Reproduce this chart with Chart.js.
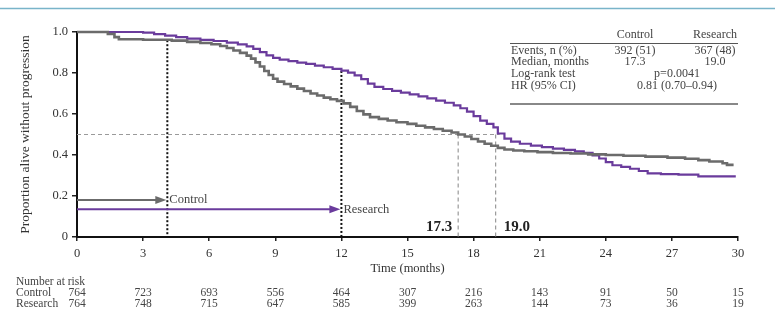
<!DOCTYPE html>
<html>
<head>
<meta charset="utf-8">
<script src="https://cdn.jsdelivr.net/npm/chart.js@4.4.1/dist/chart.umd.min.js"></script>
<style>
  html, body { margin: 0; padding: 0; background: #fff; }
  #wrap { width: 775px; height: 322px; }
</style>
</head>
<body>
<div id="wrap"><canvas id="km" width="775" height="322"></canvas></div>
<script>
// Kaplan-Meier curves
var controlTimes = [0, 1.4, 1.7, 1.9, 3.0, 4.3, 5.0, 5.6, 6.1, 6.5, 6.8, 7.1, 7.4, 7.7, 7.9, 8.1, 8.3, 8.5, 8.7, 8.9, 9.1, 9.4, 9.7, 10.0, 10.3, 10.6, 10.9, 11.2, 11.5, 11.8, 12.1, 12.4, 12.7, 13.0, 13.3, 13.7, 14.1, 14.5, 15.0, 15.4, 15.8, 16.2, 16.6, 17.0, 17.3, 17.6, 17.9, 18.2, 18.5, 18.8, 19.1, 19.4, 19.8, 20.3, 20.9, 21.6, 22.4, 23.2, 24.0, 24.8, 25.8, 26.8, 27.6, 28.2, 28.7, 29.3, 29.5, 29.8];
var controlSurv = [1.0, 0.99, 0.975, 0.965, 0.962, 0.958, 0.952, 0.946, 0.94, 0.932, 0.922, 0.91, 0.898, 0.885, 0.87, 0.852, 0.832, 0.81, 0.79, 0.772, 0.758, 0.746, 0.735, 0.724, 0.712, 0.70, 0.69, 0.68, 0.672, 0.664, 0.652, 0.635, 0.615, 0.598, 0.585, 0.576, 0.568, 0.56, 0.552, 0.543, 0.535, 0.527, 0.518, 0.51, 0.50, 0.49, 0.478, 0.466, 0.455, 0.445, 0.435, 0.427, 0.422, 0.418, 0.414, 0.41, 0.407, 0.403, 0.40, 0.396, 0.392, 0.387, 0.382, 0.375, 0.368, 0.36, 0.352, 0.352];
var researchTimes = [0, 3.0, 3.5, 4.0, 4.5, 5.0, 5.6, 6.2, 6.8, 7.3, 7.7, 8.0, 8.3, 8.6, 8.9, 9.2, 9.6, 10.0, 10.4, 10.8, 11.2, 11.6, 12.0, 12.3, 12.6, 12.9, 13.2, 13.5, 13.9, 14.3, 14.7, 15.1, 15.5, 15.9, 16.3, 16.7, 17.1, 17.4, 17.7, 18.0, 18.3, 18.6, 18.9, 19.1, 19.4, 19.7, 20.1, 20.6, 21.1, 21.6, 22.1, 22.6, 23.0, 23.4, 23.7, 24.0, 24.3, 24.7, 25.1, 25.5, 25.9, 26.5, 27.3, 28.2, 29.9];
var researchSurv = [1.0, 0.997, 0.99, 0.982, 0.975, 0.968, 0.962, 0.956, 0.948, 0.94, 0.93, 0.918, 0.902, 0.886, 0.874, 0.865, 0.858, 0.851, 0.845, 0.836, 0.828, 0.82, 0.812, 0.802, 0.788, 0.77, 0.748, 0.732, 0.722, 0.713, 0.704, 0.696, 0.686, 0.676, 0.665, 0.655, 0.642, 0.628, 0.612, 0.59, 0.568, 0.552, 0.535, 0.505, 0.48, 0.465, 0.455, 0.446, 0.438, 0.431, 0.425, 0.418, 0.41, 0.398, 0.383, 0.365, 0.35, 0.342, 0.333, 0.322, 0.31, 0.307, 0.304, 0.296, 0.296];

var xTicks = [0, 3, 6, 9, 12, 15, 18, 21, 24, 27, 30];
var riskControl = [764, 723, 693, 556, 464, 307, 216, 143, 91, 50, 15];
var riskResearch = [764, 748, 715, 647, 585, 399, 263, 144, 73, 36, 19];

var medians = [17.3, 19.0];
var markerTimes = [4.1, 12];
var markerTops = [0.96, 0.81];
var arrowLevels = [0.18, 0.135];
var arrowLabels = ['Control', 'Research'];

var statHeader = ['Control', 'Research'];
var statLabels = ['Events, n (%)', 'Median, months', 'Log-rank test', 'HR (95% CI)'];
var statControl = ['392 (51)', '17.3'];
var statResearch = ['367 (48)', '19.0'];
var statShared = ['p=0.0041', '0.81 (0.70\u20130.94)'];

var grayCol = '#6b6b6b';
var purpleCol = '#6a3b9c';
var serif = "'Liberation Serif', 'DejaVu Serif', serif";

Chart.defaults.font.family = serif;
Chart.defaults.color = '#333';

function toPoints(ts, ss) {
    return ts.map(function(t, i) { return { x: t, y: ss[i] }; });
}

function line(ctx, x1, y1, x2, y2) {
    ctx.beginPath();
    ctx.moveTo(x1, y1);
    ctx.lineTo(x2, y2);
    ctx.stroke();
}

var overlay = {
    id: 'overlay',
    beforeDatasetsDraw: function(chart) {
        var ctx = chart.ctx;
        var xs = chart.scales.x, ys = chart.scales.y;
        var y0 = ys.getPixelForValue(0), yHalf = ys.getPixelForValue(0.5);
        ctx.save();
        // median guides
        ctx.strokeStyle = '#9a9a9a';
        ctx.lineWidth = 1.2;
        ctx.setLineDash([4, 3]);
        line(ctx, xs.getPixelForValue(0), yHalf, xs.getPixelForValue(medians[1]) + 4, yHalf);
        medians.forEach(function(m) {
            var x = xs.getPixelForValue(m);
            line(ctx, x, yHalf, x, y0);
        });
        // black dotted markers
        ctx.strokeStyle = '#111';
        ctx.lineWidth = 2;
        ctx.setLineDash([2, 2]);
        markerTimes.forEach(function(t, i) {
            var x = xs.getPixelForValue(t);
            line(ctx, x, ys.getPixelForValue(markerTops[i]), x, y0);
        });
        ctx.restore();
    },
    afterDraw: function(chart) {
        var ctx = chart.ctx;
        var xs = chart.scales.x, ys = chart.scales.y;
        var y0 = ys.getPixelForValue(0);
        ctx.save();
        ctx.textBaseline = 'middle';

        // top rule
        ctx.strokeStyle = '#79b4c9';
        ctx.lineWidth = 1.5;
        line(ctx, 0, 8.5, 775, 8.5);

        // arrows
        var cols = [grayCol, purpleCol];
        markerTimes.forEach(function(t, i) {
            var xe = xs.getPixelForValue(t) - 1;
            var y = ys.getPixelForValue(arrowLevels[i]);
            ctx.strokeStyle = cols[i];
            ctx.fillStyle = cols[i];
            ctx.lineWidth = 2;
            line(ctx, xs.getPixelForValue(0), y, xe - 8, y);
            ctx.beginPath();
            ctx.moveTo(xe, y);
            ctx.lineTo(xe - 11, y - 4);
            ctx.lineTo(xe - 11, y + 4);
            ctx.closePath();
            ctx.fill();
            ctx.fillStyle = '#444';
            ctx.font = '12.5px ' + serif;
            ctx.textAlign = 'left';
            ctx.fillText(arrowLabels[i], xe + 3, y);
        });

        // median values
        ctx.fillStyle = '#222';
        ctx.font = 'bold 15px ' + serif;
        ctx.textAlign = 'right';
        ctx.fillText(medians[0].toFixed(1), xs.getPixelForValue(medians[0]) - 6, y0 - 10);
        ctx.textAlign = 'left';
        ctx.fillText(medians[1].toFixed(1), xs.getPixelForValue(medians[1]) + 8, y0 - 10);

        // number at risk
        ctx.fillStyle = '#444';
        ctx.font = '11.5px ' + serif;
        ctx.textAlign = 'left';
        ctx.fillText('Number at risk', 16, 282);
        ctx.fillText('Control', 16, 293);
        ctx.fillText('Research', 16, 304);
        ctx.textAlign = 'center';
        xTicks.forEach(function(t, i) {
            var x = xs.getPixelForValue(t);
            ctx.fillText(String(riskControl[i]), x, 293);
            ctx.fillText(String(riskResearch[i]), x, 304);
        });

        // stats table
        var colC = 635, colR = 715, colS = 677;
        ctx.font = '12px ' + serif;
        ctx.fillStyle = '#444';
        ctx.fillText(statHeader[0], colC, 35);
        ctx.fillText(statHeader[1], colR, 35);
        ctx.strokeStyle = '#555';
        ctx.lineWidth = 1;
        line(ctx, 510, 43.5, 738, 43.5);
        var rowY = [50.5, 62, 74, 85.5];
        ctx.textAlign = 'left';
        statLabels.forEach(function(s, i) { ctx.fillText(s, 511, rowY[i]); });
        ctx.textAlign = 'center';
        statControl.forEach(function(s, i) { ctx.fillText(s, colC, rowY[i]); });
        statResearch.forEach(function(s, i) { ctx.fillText(s, colR, rowY[i]); });
        statShared.forEach(function(s, i) { ctx.fillText(s, colS, rowY[i + 2]); });
        ctx.strokeStyle = '#888';
        ctx.lineWidth = 2;
        line(ctx, 510, 104, 738, 104);

        ctx.restore();
    }
};

var ctx = document.getElementById('km').getContext('2d');
new Chart(ctx, {
    type: 'line',
    data: {
        datasets: [
            {
                label: 'Control',
                data: toPoints(controlTimes, controlSurv),
                borderColor: grayCol,
                borderWidth: 2.6,
                stepped: true,
                pointRadius: 0,
                fill: false,
                clip: 6
            },
            {
                label: 'Research',
                data: toPoints(researchTimes, researchSurv),
                borderColor: purpleCol,
                borderWidth: 2.2,
                stepped: true,
                pointRadius: 0,
                fill: false,
                clip: 6
            }
        ]
    },
    options: {
        responsive: false,
        animation: false,
        layout: { padding: { top: 32, right: 37, left: 0, bottom: 0 } },
        plugins: { legend: { display: false }, tooltip: { enabled: false } },
        scales: {
            x: {
                type: 'linear',
                min: 0,
                max: 30,
                afterBuildTicks: function(s) {
                    s.ticks = xTicks.map(function(v) { return { value: v }; });
                },
                afterFit: function(s) { s.height = 85; },
                grid: { drawOnChartArea: false, color: '#222', tickLength: 4, lineWidth: 1.5 },
                border: { color: '#111', width: 2 },
                ticks: { padding: 5, maxRotation: 0, color: '#333', font: { size: 12.5 } },
                title: {
                    display: true,
                    text: 'Time (months)',
                    color: '#333',
                    font: { size: 12.5 },
                    padding: { top: 0, bottom: 46 }
                }
            },
            y: {
                min: 0,
                max: 1,
                afterFit: function(s) { s.width = 77; },
                grid: { drawOnChartArea: false, color: '#222', tickLength: 5, lineWidth: 1.5 },
                border: { color: '#111', width: 2 },
                ticks: {
                    stepSize: 0.2,
                    padding: 4,
                    color: '#333',
                    font: { size: 12.5 },
                    callback: function(v) { return v === 0 ? '0' : v.toFixed(1); }
                },
                title: {
                    display: true,
                    text: 'Proportion alive without progression',
                    color: '#333',
                    font: { size: 13.5 },
                    padding: { top: 17, bottom: 0 }
                }
            }
        }
    },
    plugins: [overlay]
});
</script>
</body>
</html>
